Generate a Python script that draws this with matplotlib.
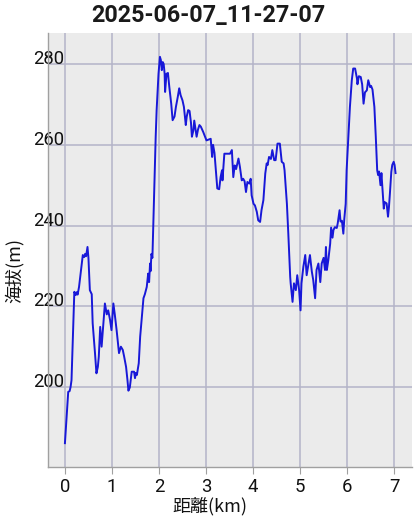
import matplotlib
matplotlib.use("Agg")
import matplotlib.pyplot as plt

# elevation profile (distance km, elevation m)
distance_km = [
    0.00, 0.07, 0.10, 0.12, 0.14, 0.18, 0.20, 0.23, 0.25, 0.27, 0.30, 0.33,
    0.38, 0.41, 0.43, 0.45, 0.48, 0.50, 0.53, 0.57, 0.59, 0.64, 0.67, 0.70,
    0.72, 0.75, 0.78, 0.85, 0.89, 0.92, 0.96, 0.99, 1.03, 1.06, 1.10, 1.15,
    1.19, 1.23, 1.26, 1.30, 1.33, 1.35, 1.38, 1.42, 1.47, 1.49, 1.51, 1.53,
    1.57, 1.60, 1.63, 1.67, 1.70, 1.74, 1.77, 1.79, 1.81, 1.82, 1.84, 1.86,
    1.88, 1.90, 1.93, 1.95, 1.99, 2.02, 2.04, 2.06, 2.08, 2.10, 2.12, 2.13,
    2.16, 2.19, 2.22, 2.26, 2.29, 2.33, 2.36, 2.40, 2.43, 2.46, 2.50, 2.53,
    2.57, 2.59, 2.62, 2.65, 2.68, 2.70, 2.73, 2.75, 2.78, 2.80, 2.83, 2.86,
    2.89, 2.94, 2.98, 3.01, 3.10, 3.13, 3.15, 3.18, 3.21, 3.24, 3.28, 3.31,
    3.34, 3.35, 3.39, 3.45, 3.51, 3.55, 3.58, 3.61, 3.64, 3.69, 3.72, 3.76,
    3.79, 3.82, 3.85, 3.88, 3.92, 3.95, 3.97, 4.01, 4.04, 4.08, 4.11, 4.15,
    4.18, 4.22, 4.26, 4.29, 4.31, 4.34, 4.38, 4.41, 4.45, 4.48, 4.52, 4.57,
    4.61, 4.65, 4.67, 4.72, 4.75, 4.79, 4.80, 4.84, 4.87, 4.91, 4.94, 4.98,
    5.01, 5.03, 5.07, 5.11, 5.14, 5.18, 5.21, 5.25, 5.28, 5.32, 5.35, 5.39,
    5.43, 5.46, 5.50, 5.53, 5.55, 5.57, 5.60, 5.64, 5.66, 5.69, 5.71, 5.74,
    5.78, 5.80, 5.84, 5.86, 5.89, 5.92, 5.94, 5.97, 5.99, 6.03, 6.06, 6.10,
    6.13, 6.17, 6.21, 6.22, 6.25, 6.29, 6.32, 6.35, 6.38, 6.42, 6.45, 6.49,
    6.51, 6.54, 6.58, 6.61, 6.64, 6.66, 6.68, 6.71, 6.73, 6.76, 6.78, 6.80,
    6.84, 6.87, 6.89, 6.91, 6.94, 6.96, 6.99, 7.01, 7.03,
]
elevation_m = [
    186.1, 198.8, 199.0, 200.0, 201.7, 215.8, 223.6, 222.8, 223.5, 222.9, 224.8, 227.7,
    232.7, 232.2, 233.0, 232.4, 234.7, 232.0, 224.0, 223.0, 215.8, 208.3, 203.4, 205.0,
    207.5, 214.9, 210.0, 220.7, 218.0, 219.0, 216.6, 214.1, 220.7, 218.0, 214.0, 208.4,
    210.0, 209.2, 207.5, 205.0, 201.7, 199.1, 199.9, 203.8, 203.8, 202.2, 203.5, 203.0,
    205.9, 212.5, 216.6, 222.0, 223.0, 224.8, 228.1, 226.0, 230.6, 228.7, 233.0, 232.0,
    240.5, 248.8, 262.0, 268.6, 277.6, 281.8, 281.0, 278.5, 280.5, 280.0, 277.6, 273.1,
    277.6, 277.8, 274.3, 270.2, 266.1, 267.0, 269.4, 271.9, 274.0, 272.3, 271.0, 269.4,
    264.9, 267.0, 268.6, 268.4, 265.5, 262.0, 263.5, 266.0, 263.5, 262.0, 263.8, 264.9,
    264.5, 263.2, 262.0, 261.1, 261.5, 257.0, 260.0, 258.0, 253.7, 249.2, 249.0, 252.0,
    253.7, 251.2, 257.8, 257.8, 257.8, 258.7, 252.0, 254.9, 254.0, 256.6, 254.6, 251.2,
    251.6, 251.0, 248.3, 250.8, 250.4, 251.6, 247.5, 245.4, 245.0, 243.4, 241.3, 240.9,
    243.8, 246.3, 252.9, 255.4, 255.0, 257.0, 256.5, 258.7, 256.2, 256.2, 260.3, 260.3,
    255.8, 255.4, 253.7, 245.4, 238.0, 227.3, 225.7, 221.1, 225.7, 224.0, 227.7, 224.0,
    219.0, 225.7, 229.8, 232.7, 227.7, 230.6, 232.7, 228.6, 226.5, 222.0, 229.0, 230.6,
    226.0, 230.6, 232.0, 229.0, 234.7, 229.0, 231.4, 235.5, 239.5, 237.0, 238.9, 239.6,
    239.4, 240.5, 243.8, 241.0, 241.2, 238.0, 241.6, 245.4, 253.7, 262.8, 269.4, 276.0,
    278.9, 278.9, 276.4, 275.0, 277.0, 276.8, 275.0, 270.2, 273.0, 273.5, 276.0, 274.3,
    274.6, 273.7, 269.4, 262.0, 253.7, 252.5, 253.4, 250.0, 253.0, 247.5, 244.2, 245.8,
    245.5, 242.2, 244.6, 247.9, 253.3, 255.0, 255.8, 255.0, 253.0,
]
x_ticks = [0, 1, 2, 3, 4, 5, 6, 7]
y_ticks = [200, 220, 240, 260, 280]

TITLE = "2025-06-07_11-27-07"
CJK = ["Noto Sans CJK JP", "Roboto", "DejaVu Sans"]

plt.rcParams["font.family"] = ["Roboto", "Noto Sans CJK JP", "DejaVu Sans"]

fig = plt.figure(figsize=(4.17, 5.23), dpi=100)
ax = fig.add_axes([0.1151, 0.1071, 0.8729, 0.8298])
ax.set_facecolor("#ebebeb")

ax.plot(distance_km, elevation_m, color="#1818d8", linewidth=1.4, zorder=3)

ax.set_xlim(-0.36, 7.38)
ax.set_ylim(180.2, 287.7)
ax.set_xticks(x_ticks)
ax.set_yticks(y_ticks)
ax.grid(True, color="#b4b4c8", linewidth=1.1)
ax.set_axisbelow(True)

for side in ("top", "right"):
    ax.spines[side].set_visible(False)
for side in ("left", "bottom"):
    ax.spines[side].set_color("#a0a0a0")
    ax.spines[side].set_linewidth(1.0)

ax.tick_params(axis="x", length=5, color="#a0a0a0", labelsize=13.3, pad=3, labelcolor="#111111")
ax.tick_params(axis="y", length=0, labelsize=13.3, pad=-11.5, labelcolor="#111111")
for lab in ax.get_yticklabels():
    lab.set_va("baseline")

ax.set_xlabel("距離(km)", fontsize=13, family=CJK, color="#111111")
ax.xaxis.set_label_coords(0.445, -0.09)
ax.xaxis.label.set_va("center")
ax.set_ylabel("海拔(m)", fontsize=13, family=CJK, color="#111111")
ax.yaxis.set_label_coords(-0.093, 0.452)
ax.yaxis.label.set_va("center")

fig.suptitle(TITLE, fontsize=16.8, fontweight="bold", y=0.971, va="center", color="#1a1a1a")

fig.savefig("out.png", dpi=100)
